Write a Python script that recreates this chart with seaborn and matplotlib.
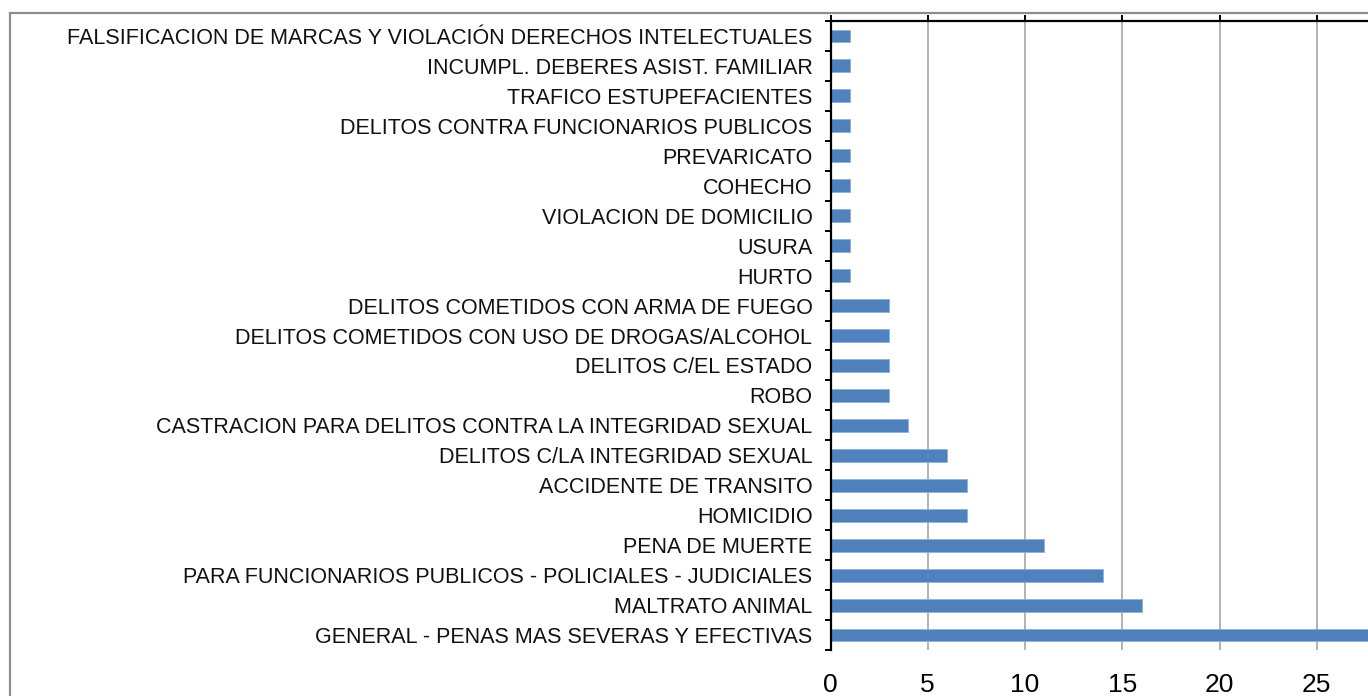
import matplotlib
matplotlib.use("Agg")
import matplotlib.pyplot as plt
from matplotlib.patches import Rectangle
import seaborn as sns

# categories, top to bottom as in the chart
categories = [
    "FALSIFICACION DE MARCAS Y VIOLACIÓN DERECHOS INTELECTUALES",
    "INCUMPL. DEBERES ASIST. FAMILIAR",
    "TRAFICO ESTUPEFACIENTES",
    "DELITOS CONTRA FUNCIONARIOS PUBLICOS",
    "PREVARICATO",
    "COHECHO",
    "VIOLACION DE DOMICILIO",
    "USURA",
    "HURTO",
    "DELITOS COMETIDOS CON ARMA DE FUEGO",
    "DELITOS COMETIDOS CON USO DE DROGAS/ALCOHOL",
    "DELITOS C/EL ESTADO",
    "ROBO",
    "CASTRACION PARA DELITOS CONTRA LA INTEGRIDAD SEXUAL",
    "DELITOS C/LA INTEGRIDAD SEXUAL",
    "ACCIDENTE DE TRANSITO",
    "HOMICIDIO",
    "PENA DE MUERTE",
    "PARA FUNCIONARIOS PUBLICOS - POLICIALES - JUDICIALES",
    "MALTRATO ANIMAL",
    "GENERAL - PENAS MAS SEVERAS Y EFECTIVAS",
]
counts = [1, 1, 1, 1, 1, 1, 1, 1, 1, 3, 3, 3, 3, 4, 6, 7, 7, 11, 14, 16, 29]
x_ticks = [0, 5, 10, 15, 20, 25]

sns.set_style("white")
plt.rcParams['font.family'] = ['Liberation Sans', 'DejaVu Sans']

fig = plt.figure(figsize=(13.68, 6.96), dpi=100)
ax = fig.add_axes([830.5 / 1368, 1 - 650 / 696, 30 * 19.45 / 1368, (650 - 21) / 696])

sns.barplot(x=counts, y=categories, orient="h", color="#4F81BD", saturation=1,
            width=0.43, edgecolor="#8FB0DA", linewidth=0.6, ax=ax)

ax.set_xlim(0, 30)
ax.set_ylim(len(categories) - 0.5, -0.5)
ax.set_xticks(x_ticks)
ax.set_xticklabels([str(t) for t in x_ticks])
ax.xaxis.grid(True, color="#A6A6A6", linewidth=1.2)
ax.set_axisbelow(True)

# spines
for side in ["bottom", "right"]:
    ax.spines[side].set_visible(False)
for side in ["top", "left"]:
    ax.spines[side].set_color("black")
    ax.spines[side].set_linewidth(1.6)

# x axis: marks on top, numbers at the bottom
ax.tick_params(axis="x", which="major", bottom=False, top=True, labelbottom=True,
               labeltop=False, direction="out", length=4.3, width=1.4,
               pad=12, labelsize=19, colors="black")

# y axis: marks between categories
ax.set_yticks([i + 0.5 for i in range(-1, len(categories))], minor=True)
ax.tick_params(axis="y", which="minor", left=True, direction="out", length=4.3, width=1.4,
               color="black")
ax.tick_params(axis="y", which="major", left=True, length=0, pad=13, labelsize=15.5,
               labelcolor="#111111")
ax.set_xlabel("")
ax.set_ylabel("")

# outer chart border (cropped at right and bottom)
fig.add_artist(Rectangle((10 / 1368, -0.5), 2, 0.5 + (1 - 13 / 696), transform=fig.transFigure,
                         fill=False, edgecolor="#8C8C8C", linewidth=1.6))

fig.savefig("out.png", dpi=100)
